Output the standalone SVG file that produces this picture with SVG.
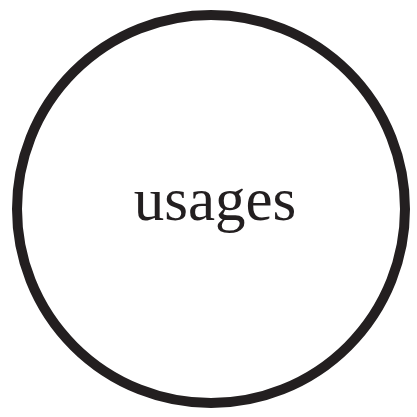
<svg xmlns="http://www.w3.org/2000/svg" width="417" height="417" viewBox="0 0 417 417">
<style>
.node-shape{fill:#ffffff;stroke:#231f20;stroke-width:10}
.node-label{font-family:"Liberation Serif","Times New Roman",serif;font-size:61px;fill:#231f20;text-anchor:middle}
</style>
<rect width="417" height="417" fill="#ffffff"/>
<g id="connectors"></g>
<g id="node-usages">
<circle class="node-shape" cx="211" cy="209" r="194"/>
<text class="node-label" x="215" y="220">usages</text>
</g>
</svg>
